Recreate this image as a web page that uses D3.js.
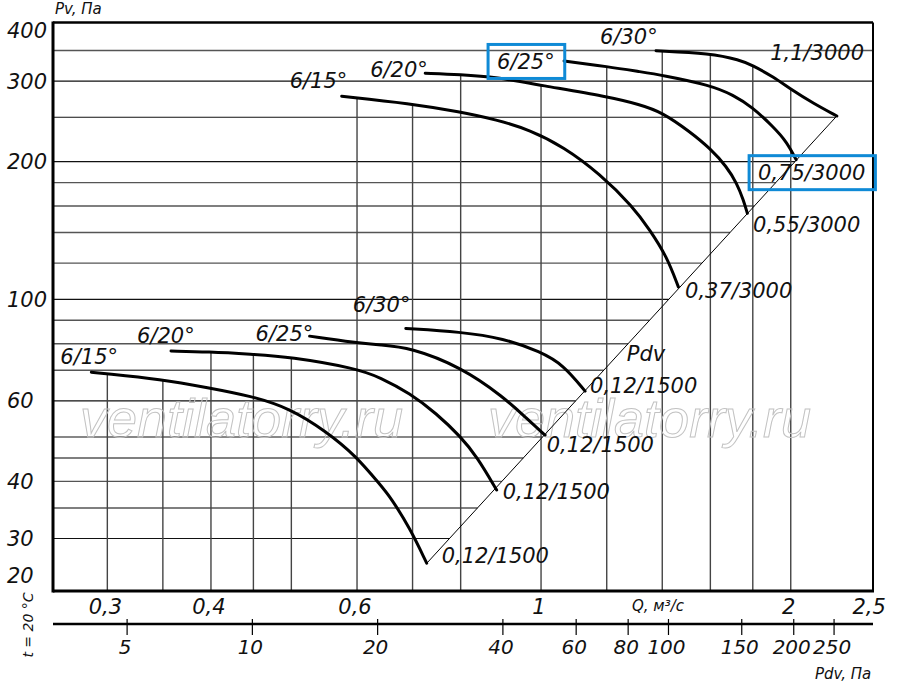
<!DOCTYPE html>
<html>
<head>
<meta charset="UTF-8">
<title>Pv - Q</title>
<script src="https://d3js.org/d3.v7.min.js"></script>
<style>
body { margin: 0; background: #fff; }
text { font-family: "DejaVu Sans", sans-serif; font-style: italic; fill: #111; }
</style>
</head>
<body>
<svg id="chart" width="900" height="686"></svg>
<script>
// ---- data (Q, m3/s ; Pv, Pa) ----
// 3000 rpm
var qU15 = [0.575, 0.695, 0.799, 0.884, 0.970, 1.064, 1.178, 1.291, 1.353, 1.417, 1.464];
var pvU15 = [278, 268, 257, 247, 234.5, 215.6, 188, 159.4, 141.7, 124.3, 106.5];
var qU20 = [0.725, 0.799, 0.884, 1.0, 1.202, 1.316, 1.398, 1.512, 1.599, 1.675, 1.722, 1.754, 1.773];
var pvU20 = [312, 310, 306, 293.6, 277.6, 266.6, 256.7, 232.5, 213.8, 194.9, 179.3, 164.8, 154.2];
var qU25 = [1.066, 1.206, 1.316, 1.398, 1.599, 1.706, 1.795, 1.906, 1.978, 2.030];
var pvU25 = [332, 322.4, 314.5, 309.3, 294, 279.7, 263.6, 238.4, 221, 202];
var qU30 = [1.376, 1.599, 1.738, 1.795, 1.906, 2.006, 2.130, 2.273];
var pvU30 = [349.4, 344.9, 333.5, 325.2, 306.6, 286.8, 268.2, 251.6];
// 1500 rpm
var qL15 = [0.287, 0.2975, 0.348, 0.397, 0.447, 0.498, 0.551, 0.598, 0.640, 0.658, 0.695, 0.728];
var pvL15 = [69.3, 68.9, 66.9, 64.1, 61.5, 57.8, 51.4, 45.5, 39.3, 37.0, 31.6, 26.5];
var qL20 = [0.358, 0.397, 0.447, 0.498, 0.598, 0.640, 0.695, 0.748, 0.800, 0.837, 0.884];
var pvL20 = [77.1, 76.8, 75.9, 74.9, 70.7, 67.5, 62.3, 56.3, 50.1, 45.3, 38.3];
var qL25 = [0.526, 0.598, 0.640, 0.695, 0.800, 0.901, 0.961, 1.011];
var pvL25 = [83.1, 80.4, 79.5, 78.5, 71.2, 61.2, 54.9, 50.5];
var qL30 = [0.687, 0.800, 0.901, 0.999, 1.064, 1.130];
var pvL30 = [86.4, 84.9, 82.2, 76.8, 71.9, 63.0];

// dynamic pressure line Pdv
var pdvLineQ = [0.7283, 2.2726];
var pdvLinePv = [26.5, 251.6];

var angles = ["6/15°", "6/20°", "6/25°", "6/30°", "6/15°", "6/20°", "6/25°", "6/30°"];
var motors = ["0,37/3000", "0,55/3000", "0,75/3000", "1,1/3000",
              "0,12/1500", "0,12/1500", "0,12/1500", "0,12/1500"];

var qTicks = [0.3, 0.4, 0.6, 1, 2, 2.5];
var qTickLabels = ["0,3", "0,4", "0,6", "1", "2", "2,5"];
var qGrid = [0.3, 0.35, 0.4, 0.45, 0.5, 0.6, 0.7, 0.8, 1, 1.2, 1.4, 1.6, 1.8, 2];
var pvTicks = [20, 30, 40, 60, 100, 200, 300, 400];
var pvGrid = [350, 300, 250, 200, 180, 160, 140, 120, 100, 90, 80, 70, 60, 50, 45, 40, 35, 30];
var pvGridMajor = [300, 250, 200, 100, 60, 50, 30];
var pdvTicks = [5, 10, 20, 40, 60, 80, 100, 150, 200, 250];

// ---- layout ----
var L = 53, R = 873, T = 22.5, B = 591;
var svg = d3.select("#chart");

var x = d3.scaleLog().domain([0.258, 2.513]).range([L, R]);
var y = d3.scaleLog().domain([23.04, 402.9]).range([B, T]).clamp(true);
var xPdv = d3.scaleLog().domain([3.318, 310.1]).range([L, R]);

var qs = [qU15, qU20, qU25, qU30, qL15, qL20, qL25, qL30];
var pvs = [pvU15, pvU20, pvU25, pvU30, pvL15, pvL20, pvL25, pvL30];
// label offsets from curve start (angle) and curve end (motor), px
var angleOff = [[-52, -8.5], [-55, 4], [-67, 8], [-56, -7], [-31, -8], [-34, -8.5], [-54, 4.5], [-53, -16]];
var motorOff = [[6.7, 10.8], [5.7, 18.2], [-38, 20.5], [-66.7, -56], [15, 0], [6, 9], [1.7, 17], [5, 2]];
var boxed = 2;

var curves = qs.map(function(q, i) {
  return q.map(function(v, j) { return [x(v), y(pvs[i][j])]; });
});

// diagonal x at a given Pv
function diagX(pv) {
  var t = (Math.log(pv) - Math.log(pdvLinePv[0])) / (Math.log(pdvLinePv[1]) - Math.log(pdvLinePv[0]));
  return x(Math.exp(Math.log(pdvLineQ[0]) + t * (Math.log(pdvLineQ[1]) - Math.log(pdvLineQ[0]))));
}
function curveYAt(pts, px) {
  if (px < pts[0][0] || px > pts[pts.length - 1][0]) return null;
  for (var k = 1; k < pts.length; k++) {
    if (px <= pts[k][0]) {
      var t = (px - pts[k - 1][0]) / (pts[k][0] - pts[k - 1][0]);
      return pts[k - 1][1] + t * (pts[k][1] - pts[k - 1][1]);
    }
  }
  return null;
}

// horizontal grid: left border to the Pdv line
svg.append("g").selectAll("line").data(pvGrid).enter().append("line")
  .attr("x1", L).attr("x2", function(d) { return d > pdvLinePv[1] ? R : diagX(d); })
  .attr("y1", function(d) { return y(d); }).attr("y2", function(d) { return y(d); })
  .attr("stroke", function(d) { return pvGridMajor.indexOf(d) >= 0 ? "#111" : "#555"; })
  .attr("stroke-width", function(d) { return pvGridMajor.indexOf(d) >= 0 ? 1.1 : 1.4; });

// vertical grid: from the top curve down to the axis
svg.append("g").selectAll("line").data(qGrid).enter().append("line")
  .attr("x1", function(d) { return x(d); }).attr("x2", function(d) { return x(d); })
  .attr("y1", function(d) {
    var px = x(d), top = B;
    curves.forEach(function(c) { var v = curveYAt(c, px); if (v != null && v < top) top = v; });
    return top;
  })
  .attr("y2", B).attr("stroke", "#444").attr("stroke-width", 1.4);

// watermark
[80, 488].forEach(function(wx) {
  svg.append("text").attr("x", wx).attr("y", 437).text("ventilatorry.ru")
    .style("font-family", "'Liberation Sans', Arial, sans-serif").style("font-size", "54px")
    .style("fill", "none").attr("stroke", "#c2c2c2").attr("stroke-width", 1);
});

// Pdv line
svg.append("line")
  .attr("x1", x(pdvLineQ[0])).attr("y1", y(pdvLinePv[0]))
  .attr("x2", x(pdvLineQ[1])).attr("y2", y(pdvLinePv[1]))
  .attr("stroke", "#000").attr("stroke-width", 1);

// curves
var line = d3.line().curve(d3.curveBasis);
svg.append("g").selectAll("path").data(curves).enter().append("path")
  .attr("d", line).attr("fill", "none").attr("stroke", "#000")
  .attr("stroke-width", 3).attr("stroke-linecap", "round");

// frame
svg.append("line").attr("x1", L).attr("x2", R).attr("y1", T).attr("y2", T).attr("stroke", "#000").attr("stroke-width", 2.5);
svg.append("line").attr("x1", R).attr("x2", R).attr("y1", T).attr("y2", B).attr("stroke", "#000").attr("stroke-width", 2);
svg.append("line").attr("x1", L).attr("x2", L).attr("y1", T - 1).attr("y2", B + 1.5).attr("stroke", "#000").attr("stroke-width", 3);
svg.append("line").attr("x1", L).attr("x2", R + 1).attr("y1", B).attr("y2", B).attr("stroke", "#000").attr("stroke-width", 3);

// curve labels
curves.forEach(function(c, i) {
  var s = c[0], e = c[c.length - 1];
  var a = svg.append("text").attr("x", s[0] + angleOff[i][0]).attr("y", s[1] + angleOff[i][1])
    .style("font-size", "21px").text(angles[i]);
  var m = svg.append("text").attr("x", e[0] + motorOff[i][0]).attr("y", e[1] + motorOff[i][1])
    .style("font-size", "21px").text(motors[i]);
  if (i === boxed) {
    [a, m].forEach(function(t) {
      var b = t.node().getBBox();
      svg.append("rect").attr("x", b.x - 9).attr("y", b.y - 5.5)
        .attr("width", b.width + 19).attr("height", b.height + 10)
        .attr("fill", "none").attr("stroke", "#0f8ad6").attr("stroke-width", 3);
    });
  }
});
svg.append("text").attr("x", diagX(76) + 8).attr("y", y(76) + 7).style("font-size", "21px").text("Pdv");

// Pv axis labels
svg.append("g").selectAll("text").data(pvTicks).enter().append("text")
  .attr("x", 7).attr("y", function(d) { return Math.min(Math.max(y(d) + 7.5, 38), 583); })
  .style("font-size", "21px").text(function(d) { return d; });
svg.append("text").attr("x", 55).attr("y", 14).style("font-size", "15px").text("Pv, Па");

// Q axis labels
svg.append("g").selectAll("text").data(qTicks).enter().append("text")
  .attr("x", function(d) { return x(d) - 2; }).attr("y", 613.5).attr("text-anchor", "middle")
  .style("font-size", "21px").text(function(d, i) { return qTickLabels[i]; });
svg.append("text").attr("x", 658).attr("y", 611).attr("text-anchor", "middle")
  .style("font-size", "15px").text("Q, м³/с");

// Pdv axis
svg.append("line").attr("x1", L).attr("x2", R).attr("y1", 624).attr("y2", 624)
  .attr("stroke", "#000").attr("stroke-width", 2.5);
var pdvG = svg.append("g").selectAll("g").data(pdvTicks).enter().append("g");
pdvG.append("line").attr("x1", function(d) { return xPdv(d); }).attr("x2", function(d) { return xPdv(d); })
  .attr("y1", 619).attr("y2", 635).attr("stroke", "#000").attr("stroke-width", 1.2);
pdvG.append("text").attr("x", function(d) { return xPdv(d) - 2; }).attr("y", 654)
  .attr("text-anchor", "middle").style("font-size", "20px").text(function(d) { return d; });
svg.append("text").attr("x", 815).attr("y", 679).style("font-size", "15px").text("Pdv, Па");

svg.append("text").attr("transform", "translate(33,625) rotate(-90)").attr("text-anchor", "middle")
  .style("font-size", "14px").text("t = 20 °C");
</script>
</body>
</html>
